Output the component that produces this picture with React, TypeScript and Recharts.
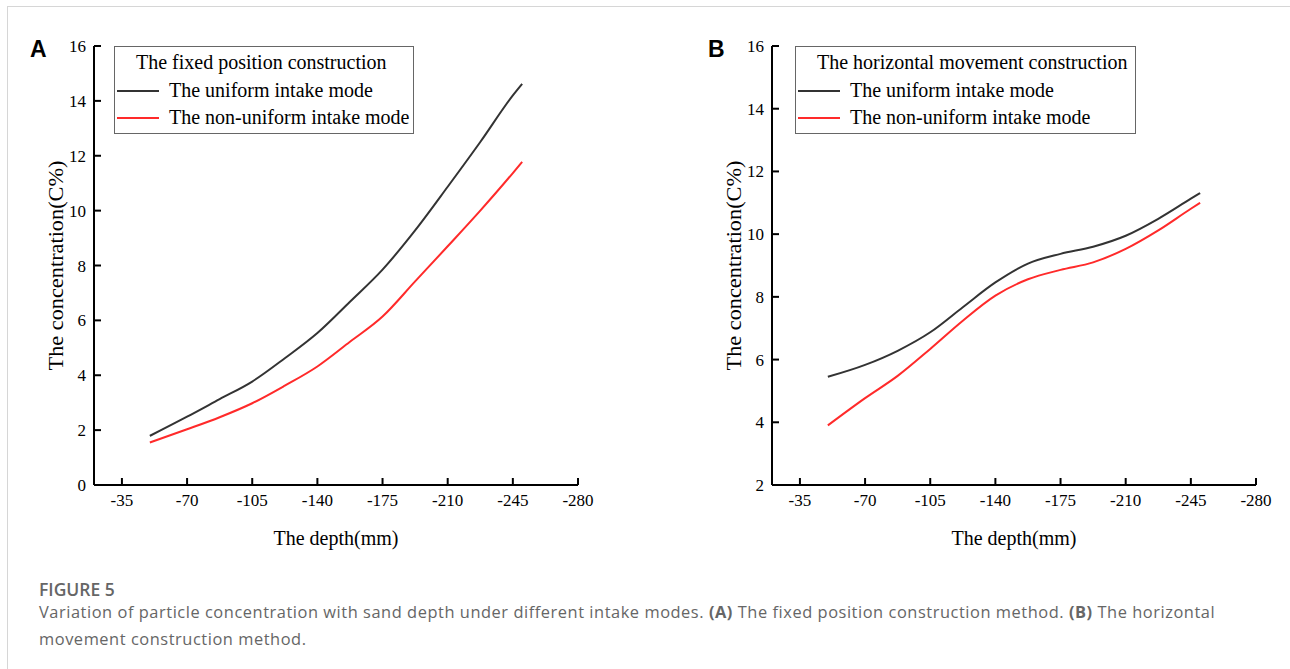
import React from 'react';
import { LineChart, Line, XAxis, YAxis, Legend } from 'recharts';

// depth (mm) sampled along the curves
const depths = [-50, -70, -87.5, -105, -122.5, -140, -157.5, -175, -192.5, -210, -227.5, -245, -250];
const xTicks = [-35, -70, -105, -140, -175, -210, -245, -280];

// (A) fixed position construction
const uniformA = [1.79, 2.49, 3.13, 3.77, 4.62, 5.54, 6.68, 7.85, 9.28, 10.87, 12.5, 14.2, 14.62];
const nonUniformA = [1.55, 2.03, 2.47, 2.98, 3.62, 4.32, 5.22, 6.14, 7.42, 8.7, 10.0, 11.37, 11.78];
const yTicksA = [0, 2, 4, 6, 8, 10, 12, 14, 16];

// (B) horizontal movement construction
const uniformB = [5.45, 5.83, 6.28, 6.87, 7.67, 8.46, 9.06, 9.37, 9.6, 9.95, 10.49, 11.13, 11.31];
const nonUniformB = [3.9, 4.77, 5.48, 6.34, 7.24, 8.04, 8.56, 8.86, 9.1, 9.53, 10.12, 10.81, 11.0];
const yTicksB = [2, 4, 6, 8, 10, 12, 14, 16];

const serif = '"Liberation Serif", "Times New Roman", serif';
const BLACK_LINE = '#333333';
const RED_LINE = '#ff2a2a';
const TICK_LEN = 7;
const X_MARGIN = 9;
const Y_MARGIN = 8;

const toRows = (a: number[], b: number[]) =>
    depths.map((d, i) => ({ depth: d, uniform: a[i], nonUniform: b[i] }));

// ticks point into the plot, like the original figure
const XTick = ({ x, y, payload }: any) => (
    <g>
        <line x1={x} x2={x} y1={y - X_MARGIN} y2={y - X_MARGIN - TICK_LEN} stroke="#000" strokeWidth={2} />
        <text x={x} y={y} dy="0.71em" textAnchor="middle" fontFamily={serif} fontSize={17} fill="#000">
            {payload.value}
        </text>
    </g>
);

const YTick = ({ x, y, payload }: any) => (
    <g>
        <line x1={x + Y_MARGIN} x2={x + Y_MARGIN + TICK_LEN} y1={y} y2={y} stroke="#000" strokeWidth={2} />
        <text x={x} y={y} dy="0.355em" textAnchor="end" fontFamily={serif} fontSize={17} fill="#000">
            {payload.value}
        </text>
    </g>
);

const LegendBox = ({ title }: { title: string }) => (
    <div
        style={{
            width: '100%',
            height: '100%',
            boxSizing: 'border-box',
            border: '1px solid #666',
            background: '#fff',
            fontFamily: serif,
            fontSize: 20,
            color: '#000',
            position: 'relative',
        }}
    >
        <div style={{ position: 'absolute', left: 21, top: 4, whiteSpace: 'nowrap' }}>{title}</div>
        {[
            { color: BLACK_LINE, label: 'The uniform intake mode', top: 32 },
            { color: RED_LINE, label: 'The non-uniform intake mode', top: 59 },
        ].map((r) => (
            <div key={r.label} style={{ position: 'absolute', left: 2, top: r.top, display: 'flex', alignItems: 'center', whiteSpace: 'nowrap' }}>
                <span style={{ display: 'inline-block', width: 42, height: 2, background: r.color, marginRight: 10 }} />
                <span>{r.label}</span>
            </div>
        ))}
    </div>
);

interface PanelProps {
    letter: string;
    title: string;
    uniform: number[];
    nonUniform: number[];
    yTicks: number[];
    left: number;
    marginLeft: number;
    marginRight: number;
    legendLeft: number;
    legendWidth: number;
}

const Panel = ({ letter, title, uniform, nonUniform, yTicks, left, marginLeft, marginRight, legendLeft, legendWidth }: PanelProps) => {
    const data = toRows(uniform, nonUniform);
    return (
        <div style={{ position: 'absolute', left, top: 0, width: 640, height: 560 }}>
            <div
                style={{
                    position: 'absolute',
                    left: marginLeft - 4,
                    top: 36,
                    fontFamily: '"Liberation Sans", Arial, sans-serif',
                    fontWeight: 700,
                    fontSize: 23,
                    color: '#000',
                }}
            >
                {letter}
            </div>
            <LineChart width={640} height={560} data={data} margin={{ top: 46, right: marginRight, bottom: 15, left: marginLeft }}>
                <XAxis
                    dataKey="depth"
                    type="number"
                    domain={[-280, -20]}
                    reversed
                    ticks={xTicks}
                    interval={0}
                    height={60}
                    axisLine={{ stroke: '#000', strokeWidth: 2 }}
                    tickLine={false}
                    tickSize={0}
                    tickMargin={X_MARGIN}
                    tick={<XTick />}
                    label={({ viewBox }: any) => (
                        <text
                            x={viewBox.x + viewBox.width / 2}
                            y={viewBox.y + 60}
                            textAnchor="middle"
                            fontFamily={serif}
                            fontSize={20}
                            fill="#000"
                        >
                            The depth(mm)
                        </text>
                    )}
                />
                <YAxis
                    type="number"
                    domain={[yTicks[0], 16]}
                    ticks={yTicks}
                    interval={0}
                    width={60}
                    axisLine={{ stroke: '#000', strokeWidth: 2 }}
                    tickLine={false}
                    tickSize={0}
                    tickMargin={Y_MARGIN}
                    tick={<YTick />}
                    label={({ viewBox }: any) => {
                        const cx = viewBox.x + 22;
                        const cy = viewBox.y + viewBox.height / 2;
                        return (
                            <text
                                x={cx}
                                y={cy}
                                transform={`rotate(-90 ${cx} ${cy})`}
                                textAnchor="middle"
                                dominantBaseline="central"
                                fontFamily={serif}
                                fontSize={20}
                                textLength={210}
                                lengthAdjust="spacingAndGlyphs"
                                fill="#000"
                            >
                                The concentration(C%)
                            </text>
                        );
                    }}
                />
                <Legend
                    layout="vertical"
                    align="center"
                    verticalAlign="middle"
                    content={() => <LegendBox title={title} />}
                    wrapperStyle={{ left: legendLeft, top: 46, width: legendWidth, height: 88 }}
                />
                <Line type="monotone" dataKey="uniform" stroke={BLACK_LINE} strokeWidth={2} dot={false} isAnimationActive={false} />
                <Line type="monotone" dataKey="nonUniform" stroke={RED_LINE} strokeWidth={2} dot={false} isAnimationActive={false} />
            </LineChart>
        </div>
    );
};

export default function App() {
    return (
        <div style={{ position: 'absolute', left: 0, top: 0, width: 1290, height: 669, background: '#fff', overflow: 'hidden' }}>
            <div
                style={{
                    position: 'absolute',
                    left: 7,
                    top: 6,
                    width: 1290,
                    height: 700,
                    borderLeft: '1px solid #d6d6d6',
                    borderTop: '1px solid #d6d6d6',
                }}
            />
            <Panel
                letter="A"
                title="The fixed position construction"
                uniform={uniformA}
                nonUniform={nonUniformA}
                yTicks={yTicksA}
                left={0}
                marginLeft={34}
                marginRight={62}
                legendLeft={114}
                legendWidth={300}
            />
            <Panel
                letter="B"
                title="The horizontal movement construction"
                uniform={uniformB}
                nonUniform={nonUniformB}
                yTicks={yTicksB}
                left={650}
                marginLeft={62}
                marginRight={34}
                legendLeft={145}
                legendWidth={341}
            />
            <div
                style={{
                    position: 'absolute',
                    left: 39,
                    top: 580,
                    fontFamily: '"Open Sans", sans-serif',
                    color: '#666',
                    whiteSpace: 'nowrap',
                }}
            >
                <div style={{ fontSize: 17.5, fontWeight: 600, lineHeight: '18px' }}>FIGURE 5</div>
                <div style={{ fontSize: 16.4, lineHeight: '27px', letterSpacing: 0.55 }}>
                    Variation of particle concentration with sand depth under different intake modes. <b>(A)</b> The fixed position construction method. <b>(B)</b> The horizontal
                </div>
                <div style={{ fontSize: 16.4, lineHeight: '27px', letterSpacing: 0.55 }}>movement construction method.</div>
            </div>
        </div>
    );
}
